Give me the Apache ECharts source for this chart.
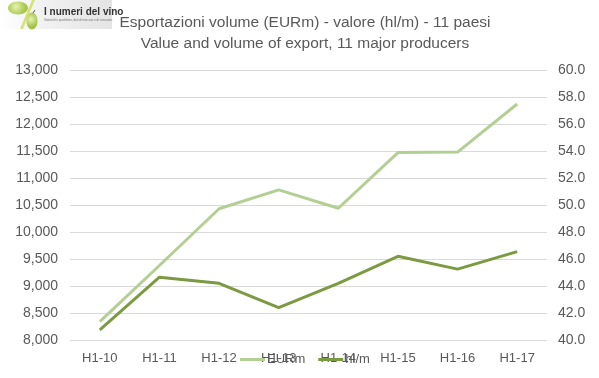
<!DOCTYPE html>
<html>
<head>
<meta charset="utf-8">
<script src="https://cdn.jsdelivr.net/npm/echarts@6/dist/echarts.min.js"></script>
<style>html,body{margin:0;padding:0;background:#fff}#c{width:599px;height:378px}</style>
</head>
<body>
<div id="c"></div>
<script>
var categories = ['H1-10','H1-11','H1-12','H1-13','H1-14','H1-15','H1-16','H1-17'];
var valueEURm = [8340, 9380, 10430, 10780, 10440, 11470, 11480, 12370];
var volumeHlm = [40.75, 44.65, 44.2, 42.4, 44.2, 46.2, 45.25, 46.55];
var leftTicks = {min: 8000, max: 13000, interval: 500};
var rightTicks = {min: 40, max: 60, interval: 2};
var seriesNames = ['EURm', 'hl/m'];
var titleLines = ['Esportazioni volume (EURm) - valore (hl/m) - 11 paesi', 'Value and volume of export, 11 major producers'];

var font = 'Liberation Sans, Arial, sans-serif';
var chart = echarts.init(document.getElementById('c'), null, {renderer: 'canvas'});
chart.setOption({
  animation: false,
  backgroundColor: '#fff',
  title: {
    text: titleLines.join('\n'),
    left: 300, top: 7, textAlign: 'center',
    textStyle: {fontFamily: font, fontSize: 15.5, fontWeight: 'normal', color: '#595959', lineHeight: 21}
  },
  graphic: [
    {type: 'rect', shape: {x: 0, y: 0, width: 112, height: 29},
     style: {fill: new echarts.graphic.LinearGradient(0, 0, 1, 0, [{offset: 0, color: '#ffffff'}, {offset: 0.35, color: '#f2f2f2'}, {offset: 1, color: '#e4e4e4'}])}, z: 0},
    {type: 'ellipse', shape: {cx: 18, cy: 8, rx: 10, ry: 6.5},
     style: {fill: new echarts.graphic.RadialGradient(0.4, 0.4, 0.7, [{offset: 0, color: '#e6f2b0'}, {offset: 1, color: '#a8c84e'}])}, z: 1},
    {type: 'polygon', shape: {points: [[20, 29], [23, 29], [35, 0], [32, 0]]}, style: {fill: '#d8e27a'}, z: 1},
    {type: 'ellipse', shape: {cx: 32, cy: 21, rx: 5.5, ry: 8.5},
     style: {fill: new echarts.graphic.RadialGradient(0.4, 0.4, 0.7, [{offset: 0, color: '#e6f2b0'}, {offset: 1, color: '#a2c244'}])}, z: 2},
    {type: 'line', shape: {x1: 33, y1: 13, x2: 35, y2: 10}, style: {stroke: '#5a5a3a', lineWidth: 1}, z: 3},
    {type: 'text', left: 44, top: 7,
     style: {text: 'I numeri del vino', font: 'bold 10px "Liberation Sans Narrow", "Liberation Sans", sans-serif', fill: '#333'}, z: 3},
    {type: 'text', left: 44, top: 19,
     style: {text: 'Statistiche produttive, dati di mercato e di consumo.', font: '3px "Liberation Sans", sans-serif', fill: '#777'}, z: 3}
  ],
  legend: {
    left: 235, top: 348, itemWidth: 25, itemHeight: 3, itemGap: 13, icon: 'rect',
    textStyle: {fontFamily: font, fontSize: 13, color: '#595959', padding: [0, 0, 0, -3]},
    data: seriesNames
  },
  grid: {left: 70, right: 52, top: 70, bottom: 38},
  xAxis: {
    type: 'category', data: categories, boundaryGap: true,
    axisLine: {show: false}, axisTick: {show: false},
    axisLabel: {fontFamily: font, fontSize: 13, color: '#595959', margin: 12}
  },
  yAxis: [
    {type: 'value', min: leftTicks.min, max: leftTicks.max, interval: leftTicks.interval,
     axisLine: {show: false}, axisTick: {show: false},
     splitLine: {lineStyle: {color: '#d9d9d9', width: 1}},
     axisLabel: {fontFamily: font, fontSize: 14, color: '#595959', margin: 12,
       formatter: function (v) { return v.toLocaleString('en-US'); }}},
    {type: 'value', min: rightTicks.min, max: rightTicks.max, interval: rightTicks.interval,
     axisLine: {show: false}, axisTick: {show: false}, splitLine: {show: false},
     axisLabel: {fontFamily: font, fontSize: 14, color: '#595959', margin: 11,
       formatter: function (v) { return v.toFixed(1); }}}
  ],
  series: [
    {name: seriesNames[0], type: 'line', yAxisIndex: 0, data: valueEURm, symbol: 'none',
     lineStyle: {color: '#b3cf93', width: 3}, itemStyle: {color: '#b3cf93'}},
    {name: seriesNames[1], type: 'line', yAxisIndex: 1, data: volumeHlm, symbol: 'none',
     lineStyle: {color: '#7b9a41', width: 3}, itemStyle: {color: '#7b9a41'}}
  ]
});
</script>
</body>
</html>
